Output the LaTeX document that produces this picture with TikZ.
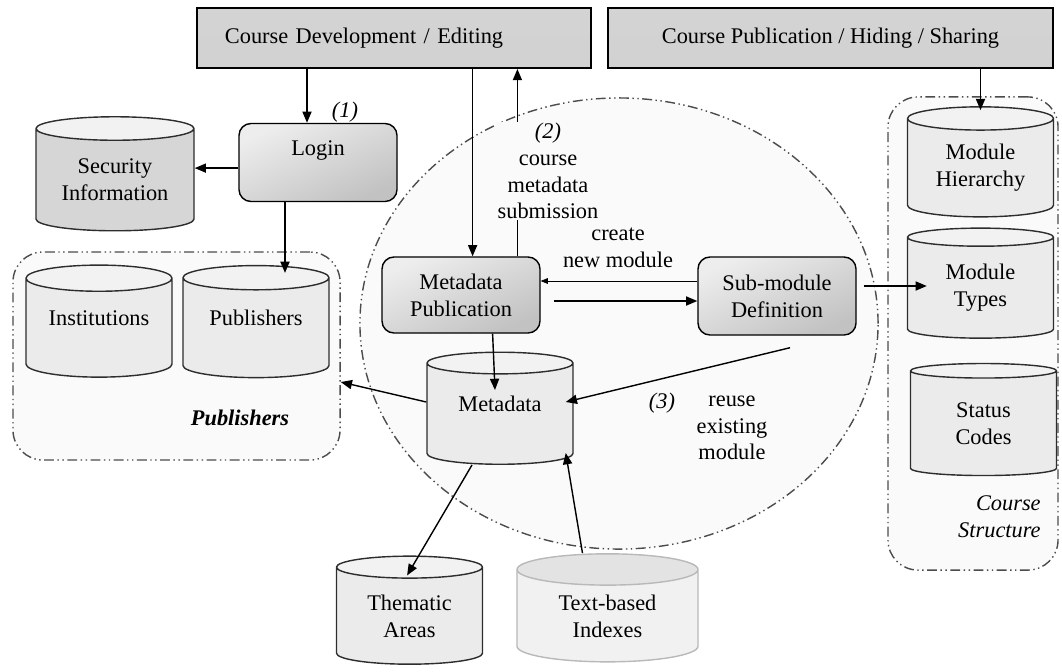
\documentclass[tikz,border=0pt]{standalone}
\usepackage{fontspec}
\setmainfont{Liberation Serif}
\usepackage{tikz}
\usetikzlibrary{shapes}
\usetikzlibrary{arrows.meta}
\tikzstyle{every node}=[font=\fontsize{15.9}{19}\selectfont]
\tikzstyle{header}=[draw=black,line width=1.4pt,top color=gray!34,middle color=gray!12,bottom color=gray!36,minimum height=1.5cm,inner ysep=0mm]
\tikzstyle{procbox}=[draw=black,rounded corners=0.3cm,top color=gray!14,bottom color=gray!48,shading angle=25,minimum width=3.95cm,minimum height=1.95cm,align=center]
\tikzstyle{db}=[cylinder,shape border rotate=90,aspect=0.26,draw=gray!35!black,cylinder uses custom fill,cylinder body fill=gray!16,cylinder end fill=gray!10,minimum width=3.65cm,minimum height=2.8cm,align=center,inner sep=0mm]
\tikzstyle{group}=[draw=gray!60!black,dash pattern=on 7pt off 2.5pt on 1pt off 2.5pt on 1pt off 2.5pt,fill=gray!4]
\tikzstyle{arrow}=[->,>={Triangle[length=8pt,width=6.5pt]}]
\tikzset{every picture/.style={
    line width=1
  }
}
\begin{document}
\begin{tikzpicture}[x=0.025cm,y=-0.025cm]
      \useasboundingbox (0,0) rectangle (1062,671);
      % areas
      \node[group,rounded corners=0.75cm,minimum width=8.175cm,minimum height=5.2cm] at (176.5,356) (pubarea) {};
      \node[group,rounded corners=0.75cm,minimum width=4.25cm,minimum height=11.825cm] at (973,333.5) (structarea) {};
      \node[group,ellipse,minimum width=12.95cm,minimum height=11.275cm] at (619,323.5) (devarea) {};
      % top bars
      \node[header,text width=8.45cm,inner xsep=0.7cm,align=left] at (394,38) (coursedev) {Course Development / Editing};
      \node[header,minimum width=11.125cm] at (830.5,38) (coursepub) {Course Publication / Hiding / Sharing};
      % processes
      \node[procbox,text depth=0.7cm] at (318,162.5) (login) {Login};
      \node[procbox,minimum height=1.9cm] at (461,295) (metapub) {Metadata\\Publication};
      \node[procbox] at (777,296) (subdef) {Sub-module\\Definition};
      % data stores
      \node[db,cylinder body fill=gray!32,aspect=0.22,minimum width=3.95cm,minimum height=2.85cm] at (115,180) (secinfo) {Security\\Information};
      \node[db,text depth=0.5cm] at (99,328) (inst) {Institutions};
      \node[db,text depth=0.5cm] at (256,328) (pubs) {Publishers};
      \node[db,text depth=0.5cm] at (500,414) (meta) {Metadata};
      \node[db,minimum height=2.75cm] at (980.5,168) (modhier) {Module\\Hierarchy};
      \node[db,minimum height=2.75cm] at (980.5,288) (modtypes) {Module\\Types};
      \node[db] at (983.5,423.5) (status) {Status\\Codes};
      \node[db,minimum height=2.7cm] at (409.5,616) (thematic) {Thematic\\Areas};
      \node[db,draw=gray!55,cylinder body fill=gray!11,cylinder end fill=gray!22,aspect=0.32,minimum width=4.525cm,minimum height=2.7cm] at (607.5,616) (textidx) {Text-based\\Indexes};
      % connectors
      \draw[arrow] ([xshift=-0.275cm]login.north |- coursedev.south) -- ([xshift=-0.275cm]login.north);
      \draw[arrow] ([yshift=-0.14cm]login.west) -- ([yshift=-0.14cm]login.west -| secinfo.east);
      \draw[arrow] ([xshift=-0.825cm]login.south) -- ([xshift=-0.825cm,yshift=-0.2cm]login.south |- pubs.north);
      \draw[arrow] ([xshift=0.29cm]metapub.north |- coursedev.south) -- ([xshift=0.29cm]metapub.north);
      \draw[arrow] ([xshift=1.41cm]metapub.north) -- ([xshift=1.41cm]metapub.north |- coursedev.south);
      \draw[->,>={Triangle[length=5pt,width=4pt]},line width=0.4pt] ([yshift=0.375cm]subdef.west) -- ([yshift=0.375cm]subdef.west -| metapub.east);
      \draw[arrow,shorten <=0.33cm] ([yshift=-0.15cm]metapub.east) -- ([yshift=-0.15cm]metapub.east -| subdef.west);
      \draw[arrow] ([xshift=0.175cm,yshift=0.25cm]subdef.east) -- ([xshift=0.5cm,yshift=0.25cm]subdef.east -| modtypes.west);
      \draw[arrow] (modhier.north |- coursepub.south) -- ([yshift=-0.1cm]modhier.north);
      \draw[arrow] ([xshift=0.79cm]metapub.south) -- ([xshift=-0.125cm,yshift=0.6cm]meta.center);
      \draw[arrow] ([xshift=0.325cm,yshift=-0.3cm]subdef.south) -- ([xshift=-0.2cm,yshift=0.3cm]meta.east);
      \draw[arrow] ([yshift=0.3cm]meta.west) -- ([yshift=-0.65cm]pubarea.east);
      \draw[arrow] ([xshift=-0.7cm]meta.south) -- ([xshift=-0.06cm,yshift=-0.5cm]thematic.north);
      \draw[arrow] ([xshift=-0.625cm]textidx.north) -- ([xshift=-0.2cm,yshift=-0.975cm]meta.east);
      % labels
      \node[font=\fontsize{15.9}{19}\selectfont\itshape] at (345,112) (step1) {(1)};
      \node[fill=gray!4,inner sep=1pt,align=center] at (548,171) (step2) {\textit{(2)}\\course\\metadata\\submission};
      \node[align=center] at (618,248) (create) {create\\new module};
      \node[font=\fontsize{15.9}{19}\selectfont\itshape] at (662,403) (step3) {(3)};
      \node[align=center] at (732,428) (reuse) {reuse\\existing\\module};
      \node[font=\fontsize{15.9}{19}\selectfont\bfseries\itshape] at (240,418) (pubtitle) {Publishers};
      \node[font=\fontsize{15.9}{19}\selectfont\itshape,align=right,anchor=east] at (1046,517) (structtitle) {Course\\Structure};
\end{tikzpicture}
\end{document}
